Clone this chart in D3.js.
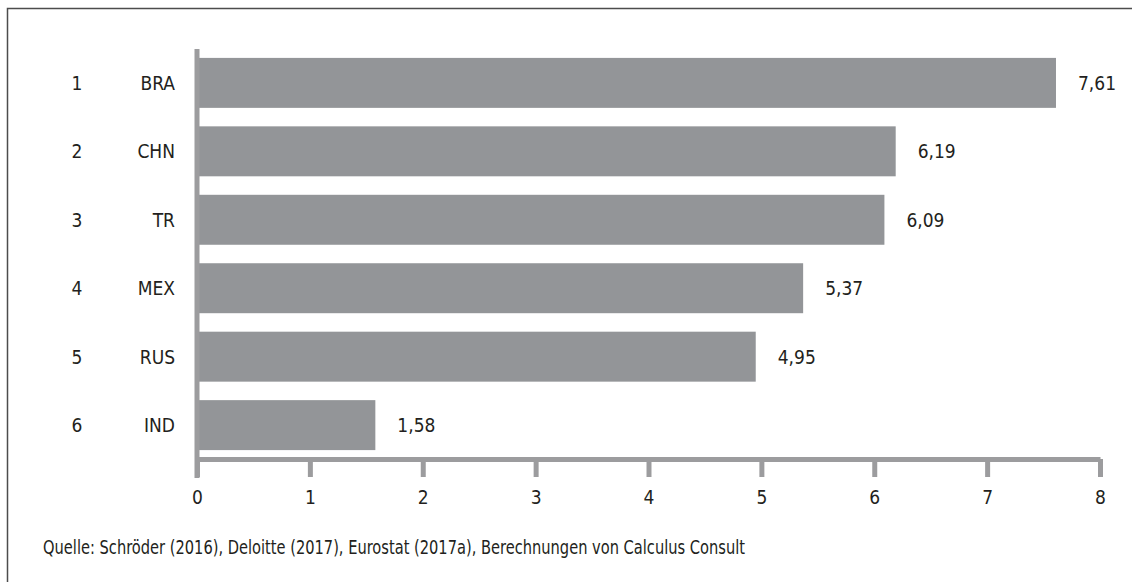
<!DOCTYPE html>
<html>
<head>
<meta charset="utf-8">
<script src="https://cdn.jsdelivr.net/npm/d3@7"></script>
<style>
  html, body { margin: 0; padding: 0; background: #fff; }
  svg text { font-family: "DejaVu Sans Condensed", "Open Sans", sans-serif; fill: #231f20; }
</style>
</head>
<body>
<div id="chart"></div>
<script>
'use strict';

// Ranking, country codes and values
const ranks = [1, 2, 3, 4, 5, 6];
const countries = ['BRA', 'CHN', 'TR', 'MEX', 'RUS', 'IND'];
const values = [7.61, 6.19, 6.09, 5.37, 4.95, 1.58];
const xTicks = [0, 1, 2, 3, 4, 5, 6, 7, 8];
const source = 'Quelle: Schröder (2016), Deloitte (2017), Eurostat (2017a), Berechnungen von Calculus Consult';

const width = 1132;
const height = 582;
const fontSize = '19px';
const barColor = '#939598';
const axisColor = '#9c9c9e';

const svg = d3.select('#chart')
  .append('svg')
  .attr('width', width)
  .attr('height', height);

// frame: only top and left edges are visible
svg.append('path')
  .attr('d', `M7.5,${height} V8.5 H${width}`)
  .attr('fill', 'none')
  .attr('stroke', '#4d4d4d')
  .attr('stroke-width', 1.5);

const x = d3.scaleLinear()
  .domain([0, 8])
  .range([197, 1100]);

const y = d3.scaleBand()
  .domain(countries)
  .range([49, 459])
  .paddingInner(0.27)
  .paddingOuter(0.13);

// bars
svg.selectAll('rect.bar')
  .data(values)
  .enter()
  .append('rect')
  .attr('class', 'bar')
  .attr('x', x(0))
  .attr('y', (d, i) => y(countries[i]))
  .attr('width', d => x(d) - x(0))
  .attr('height', y.bandwidth())
  .attr('fill', barColor);

// value labels
svg.selectAll('text.value')
  .data(values)
  .enter()
  .append('text')
  .attr('class', 'value')
  .attr('x', d => x(d) + 22)
  .attr('y', (d, i) => y(countries[i]) + y.bandwidth() / 2)
  .attr('dominant-baseline', 'central')
  .attr('font-size', fontSize)
  .text(d => d3.format('.2f')(d).replace('.', ','));

// rank and country labels
svg.selectAll('text.rank')
  .data(ranks)
  .enter()
  .append('text')
  .attr('class', 'rank')
  .attr('x', 77)
  .attr('y', (d, i) => y(countries[i]) + y.bandwidth() / 2)
  .attr('text-anchor', 'middle')
  .attr('dominant-baseline', 'central')
  .attr('font-size', fontSize)
  .text(d => d);

svg.selectAll('text.country')
  .data(countries)
  .enter()
  .append('text')
  .attr('class', 'country')
  .attr('x', 175)
  .attr('y', d => y(d) + y.bandwidth() / 2)
  .attr('text-anchor', 'end')
  .attr('dominant-baseline', 'central')
  .attr('font-size', fontSize)
  .text(d => d);

// vertical axis line
svg.append('line')
  .attr('x1', x(0)).attr('x2', x(0))
  .attr('y1', 49).attr('y2', 478)
  .attr('stroke', axisColor)
  .attr('stroke-width', 5);

// x axis
const xAxis = d3.axisBottom(x)
  .tickValues(xTicks)
  .tickSize(18)
  .tickSizeOuter(0)
  .tickPadding(14);

const gx = svg.append('g')
  .attr('transform', 'translate(0,459)')
  .call(xAxis);

gx.select('.domain')
  .attr('stroke', axisColor)
  .attr('stroke-width', 5);
gx.selectAll('.tick line')
  .attr('stroke', axisColor)
  .attr('stroke-width', 5);
gx.selectAll('.tick text')
  .attr('font-size', fontSize)
  .attr('font-family', null)
  .attr('fill', '#231f20');

// source note
svg.append('text')
  .attr('x', 43)
  .attr('y', 554)
  .attr('font-size', fontSize)
  .attr('textLength', 702)
  .attr('lengthAdjust', 'spacingAndGlyphs')
  .text(source);
</script>
</body>
</html>
